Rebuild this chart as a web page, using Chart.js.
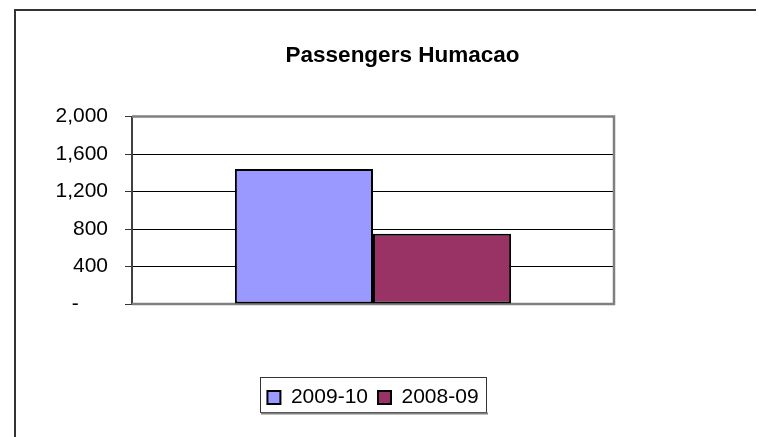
<!DOCTYPE html>
<html>
<head>
<meta charset="utf-8">
<script src="https://cdn.jsdelivr.net/npm/chart.js@4"></script>
<style>
  html, body { margin: 0; padding: 0; background: #fff; }
  #wrap { width: 759px; height: 437px; }
</style>
</head>
<body>
<div id="wrap"><canvas id="ch" width="759" height="437"></canvas></div>
<script>
const categories = [''];
const seriesNames = ['2009-10', '2008-09'];
const values0910 = [1440];
const values0809 = [750];
const yTicks = [0, 400, 800, 1200, 1600, 2000];

const FONT = '"Liberation Sans", Arial, sans-serif';

// frame round the chart, plot border and box round the legend
const decor = {
    id: 'decor',
    beforeDatasetsDraw(chart) {
        const { ctx, chartArea: a } = chart;
        ctx.save();
        ctx.strokeStyle = '#808080';
        ctx.lineWidth = 2.5;
        ctx.beginPath();
        ctx.moveTo(a.left, a.top);
        ctx.lineTo(a.right, a.top);
        ctx.lineTo(a.right, a.bottom);
        ctx.lineTo(a.left, a.bottom);
        ctx.stroke();
        ctx.restore();
    },
    afterDraw(chart) {
        const ctx = chart.ctx;
        ctx.save();
        ctx.strokeStyle = '#333';
        ctx.lineWidth = 2;
        // frame runs off the right and bottom edges, as in the reference
        ctx.beginPath();
        ctx.moveTo(15, 437);
        ctx.lineTo(15, 10);
        ctx.lineTo(756, 10);
        ctx.stroke();
        const boxes = chart.legend.legendHitBoxes;
        if (boxes && boxes.length) {
            const l = boxes[0].left - 7;
            const last = boxes[boxes.length - 1];
            const r = last.left + last.width + 8;
            const t = boxes[0].top - 10;
            ctx.strokeStyle = '#333';
            ctx.lineWidth = 1;
            ctx.strokeRect(Math.round(l) + 0.5, Math.round(t) + 0.5, Math.round(r - l), 35);
            ctx.strokeStyle = '#808080';
            ctx.lineWidth = 2;
            ctx.beginPath();
            ctx.moveTo(Math.round(l) + 1, Math.round(t) + 36.5);
            ctx.lineTo(Math.round(r) + 1, Math.round(t) + 36.5);
            ctx.stroke();
        }
        ctx.restore();
    }
};

const ctx = document.getElementById('ch').getContext('2d');
const myChart = new Chart(ctx, {
    type: 'bar',
    data: {
        labels: categories,
        datasets: [{
            label: seriesNames[0],
            data: values0910,
            backgroundColor: '#9999FF',
            borderColor: '#000',
            borderWidth: 2,
            borderSkipped: false
        }, {
            label: seriesNames[1],
            data: values0809,
            backgroundColor: '#993366',
            borderColor: '#000',
            borderWidth: 2,
            borderSkipped: false
        }]
    },
    options: {
        responsive: false,
        animation: false,
        layout: { padding: { left: 46, right: 0, top: 0, bottom: 19 } },
        datasets: { bar: { categoryPercentage: 0.573, barPercentage: 1 } },
        plugins: {
            title: {
                display: true,
                text: 'Passengers Humacao',
                color: '#000',
                font: { family: FONT, size: 22.5, weight: 'bold' },
                padding: { top: 42, bottom: 47.6 }
            },
            legend: {
                position: 'bottom',
                fullSize: false,
                labels: {
                    color: '#000',
                    font: { family: FONT, size: 21 },
                    boxWidth: 13,
                    boxHeight: 13,
                    padding: 10,
                    generateLabels(chart) {
                        return chart.data.datasets.map((d, i) => ({
                            text: d.label,
                            fillStyle: d.backgroundColor,
                            strokeStyle: '#000',
                            lineWidth: 2,
                            datasetIndex: i
                        }));
                    }
                }
            },
            tooltip: { enabled: false }
        },
        scales: {
            x: {
                display: true,
                grid: { display: false },
                border: { display: false },
                ticks: { display: false },
                afterFit(s) { s.height = 73; }
            },
            y: {
                min: 0,
                max: 2000,
                afterBuildTicks(s) { s.ticks = yTicks.map(v => ({ value: v })); },
                afterFit(s) { s.width = 86; },
                grid: { color: '#000', lineWidth: 1, tickLength: 7, tickColor: '#333' },
                border: { color: '#404040', width: 2 },
                ticks: {
                    color: '#000',
                    padding: 17,
                    font: { family: FONT, size: 21 },
                    callback: v => v === 0 ? '-     ' : v.toLocaleString('en-US')
                }
            },
            y2: {
                position: 'right',
                display: true,
                grid: { display: false },
                border: { display: false },
                ticks: { display: false },
                afterFit(s) { s.width = 145; }
            }
        }
    },
    plugins: [decor]
});

myChart.update();
</script>
</body>
</html>
